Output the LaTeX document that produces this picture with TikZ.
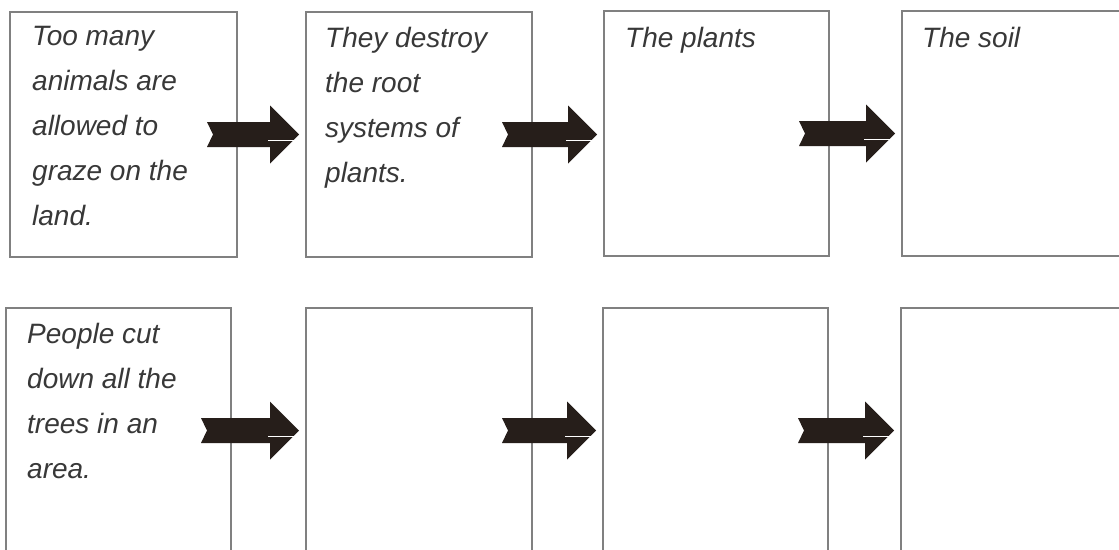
\documentclass[tikz,border=0pt]{standalone}
\usepackage{fontspec}
\setmainfont{Liberation Sans}
\usetikzlibrary{calc}
\definecolor{boxline}{HTML}{808080}
\definecolor{inkgray}{HTML}{383838}
\definecolor{arrowdark}{HTML}{261E1A}
\tikzset{
  stepbox/.style={draw=boxline, line width=1.4pt, fill=none, outer sep=0pt, inner sep=0pt,
    minimum height=245pt, anchor=north west},
  steptext/.style={anchor=base west, inner sep=0pt, text=inkgray,
    font=\fontsize{28}{45}\selectfont\itshape},
  arrowfill/.style={fill=arrowdark},
}
\newcommand\flowarrow[2]{%
  \fill[arrowfill] let \p1=(#1.east), \p2=(#2.west) in
    (\x1-30pt,\y1+12.5pt) -- (\x2-36pt,\y1+12.5pt) -- (\x2-36pt,\y1+29pt)
    -- (\x2-7pt,\y1) -- (\x2-36pt,\y1-29pt) -- (\x2-36pt,\y1-12.5pt)
    -- (\x1-30pt,\y1-12.5pt) -- (\x1-24pt,\y1) -- cycle;
  \draw[white, line width=0.8pt] let \p1=(#1.east), \p2=(#2.west) in
    (\x2-38pt,\y1-6pt) -- (\x2-12pt,\y1-6pt);
}
\begin{document}
\begin{tikzpicture}[x=1pt,y=-1pt]
\useasboundingbox (0,0) rectangle (1119,549);
\clip (0,0) rectangle (1119,549);
\fill[white] (0,0) rectangle (1119,549);
% row 1
\node[stepbox, minimum width=227pt] (a1) at (10,12) {};
\node[stepbox, minimum width=226pt] (a2) at (306,12) {};
\node[stepbox, minimum width=225pt] (a3) at (604,11) {};
\node[stepbox, minimum width=226pt] (a4) at (902,11) {};
% row 2
\node[stepbox, minimum width=225pt] (b1) at (6,308) {};
\node[stepbox, minimum width=226pt] (b2) at (306,308) {};
\node[stepbox, minimum width=225pt] (b3) at (603,308) {};
\node[stepbox, minimum width=226pt] (b4) at (901,308) {};
% texts
\node[steptext] (ta1) at (32,45) {\parbox[t]{200pt}{\raggedright Too many\\animals are\\allowed to\\graze on the\\land.}};
\node[steptext] (ta2) at (325,47) {\parbox[t]{200pt}{\raggedright They destroy\\the root\\systems of\\plants.}};
\node[steptext] (ta3) at (625,47) {The plants};
\node[steptext] (ta4) at (922,47) {The soil};
\node[steptext] (tb1) at (27,343) {\parbox[t]{200pt}{\raggedright People cut\\down all the\\trees in an\\area.}};
% arrows
\flowarrow{a1}{a2}
\flowarrow{a2}{a3}
\flowarrow{a3}{a4}
\flowarrow{b1}{b2}
\flowarrow{b2}{b3}
\flowarrow{b3}{b4}
\end{tikzpicture}
\end{document}
